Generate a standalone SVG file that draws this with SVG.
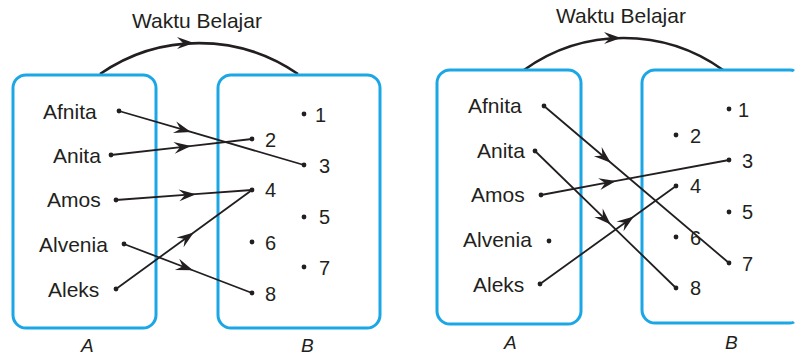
<svg xmlns="http://www.w3.org/2000/svg" width="795" height="356" viewBox="0 0 795 356">
<defs>
<style>
.box{fill:none;stroke:#1ba6e6;stroke-width:3}
.t{font-family:"Liberation Sans",Arial,sans-serif;font-size:21px;fill:#231f20}
.n{font-family:"Liberation Sans",Arial,sans-serif;font-size:20px;fill:#231f20}
.set{font-family:"Liberation Sans",Arial,sans-serif;font-size:19px;font-style:italic;fill:#231f20}
.e{fill:none;stroke:#231f20;stroke-width:1.8;marker-mid:url(#ah)}
.arc{fill:none;stroke:#231f20;stroke-width:2.6}
.d{fill:#231f20}
</style>
<marker id="ah" viewBox="-17 -7 18 14" refX="0" refY="0" markerUnits="userSpaceOnUse" markerWidth="18" markerHeight="14" orient="auto">
<path d="M1,0 L-16,-6 L-10,0 L-16,6 Z" fill="#231f20"/>
</marker>
</defs>

<!-- LEFT DIAGRAM -->
<g id="left-title">
<text class="t" x="132" y="28">Waktu Belajar</text>
<path class="arc" d="M100,74 A174,174 0 0 1 298,74"/>
<path d="M194,43 L177,37 L183,43 L177,49 Z" fill="#231f20"/>
</g>
<g id="left-A">
<rect class="box" x="13" y="75" width="143" height="253" rx="13"/>
<text class="t" x="43" y="119">Afnita</text>
<text class="t" x="53" y="163">Anita</text>
<text class="t" x="47" y="207">Amos</text>
<text class="t" x="39" y="252">Alvenia</text>
<text class="t" x="48" y="297">Aleks</text>
<circle class="d" cx="119" cy="111" r="2.4"/>
<circle class="d" cx="111" cy="155" r="2.4"/>
<circle class="d" cx="116" cy="200" r="2.4"/>
<circle class="d" cx="124" cy="244" r="2.4"/>
<circle class="d" cx="116" cy="289" r="2.4"/>
<text class="set" x="81" y="352">A</text>
</g>
<g id="left-B">
<rect class="box" x="218" y="75" width="162" height="253" rx="13"/>
<circle class="d" cx="304" cy="114" r="2.4"/><text class="n" x="315" y="122">1</text>
<circle class="d" cx="252" cy="139" r="2.4"/><text class="n" x="265" y="147">2</text>
<circle class="d" cx="304" cy="165" r="2.4"/><text class="n" x="319" y="173">3</text>
<circle class="d" cx="252" cy="190" r="2.4"/><text class="n" x="265" y="197">4</text>
<circle class="d" cx="304" cy="217" r="2.4"/><text class="n" x="319" y="224">5</text>
<circle class="d" cx="252" cy="242" r="2.4"/><text class="n" x="265" y="250">6</text>
<circle class="d" cx="304" cy="267" r="2.4"/><text class="n" x="319" y="275">7</text>
<circle class="d" cx="252" cy="293" r="2.4"/><text class="n" x="265" y="301">8</text>
<text class="set" x="301" y="352">B</text>
</g>
<g id="left-connectors">
<path class="e" d="M119,111 L190,131.7 L304,165"/>
<path class="e" d="M111,155 L190,146.1 L252,139"/>
<path class="e" d="M116,200 L195,194.2 L252,190"/>
<path class="e" d="M116,289 L193,233 L252,190"/>
<path class="e" d="M124,244 L192,270 L252,293"/>
</g>

<!-- RIGHT DIAGRAM -->
<g id="right-title">
<text class="t" x="556" y="23">Waktu Belajar</text>
<path class="arc" d="M524,70 A171,171 0 0 1 723,70"/>
<path d="M621,38 L604,32 L610,38 L604,44 Z" fill="#231f20"/>
</g>
<g id="right-A">
<rect class="box" x="437" y="70" width="144" height="254" rx="13"/>
<text class="t" x="468" y="113">Afnita</text>
<text class="t" x="477" y="158">Anita</text>
<text class="t" x="471" y="202">Amos</text>
<text class="t" x="463" y="247">Alvenia</text>
<text class="t" x="473" y="292">Aleks</text>
<circle class="d" cx="544" cy="106" r="2.4"/>
<circle class="d" cx="535" cy="151" r="2.4"/>
<circle class="d" cx="541" cy="195" r="2.4"/>
<circle class="d" cx="549" cy="241" r="2.4"/>
<circle class="d" cx="540" cy="284" r="2.4"/>
<text class="set" x="504" y="349">A</text>
</g>
<g id="right-B">
<path class="box" d="M794,71 Q793,70 790,70 H655 A13,13 0 0 0 642,83 V310 A13,13 0 0 0 655,323 H790 Q793,323 794,322"/>
<circle class="d" cx="729" cy="109" r="2.4"/><text class="n" x="738" y="117">1</text>
<circle class="d" cx="676" cy="135" r="2.4"/><text class="n" x="690" y="143">2</text>
<circle class="d" cx="729" cy="160" r="2.4"/><text class="n" x="742" y="168">3</text>
<circle class="d" cx="676" cy="186" r="2.4"/><text class="n" x="690" y="193">4</text>
<circle class="d" cx="729" cy="212" r="2.4"/><text class="n" x="742" y="219">5</text>
<circle class="d" cx="676" cy="237" r="2.4"/><text class="n" x="690" y="245">6</text>
<circle class="d" cx="729" cy="263" r="2.4"/><text class="n" x="742" y="271">7</text>
<circle class="d" cx="676" cy="288" r="2.4"/><text class="n" x="690" y="295">8</text>
<text class="set" x="725" y="349">B</text>
</g>
<g id="right-connectors">
<path class="e" d="M544,106 L610,162 L729,263"/>
<path class="e" d="M535,151 L610,223.9 L676,288"/>
<path class="e" d="M541,195 L615,181.2 L729,160"/>
<path class="e" d="M540,284 L633,217 L676,186"/>
</g>
</svg>
